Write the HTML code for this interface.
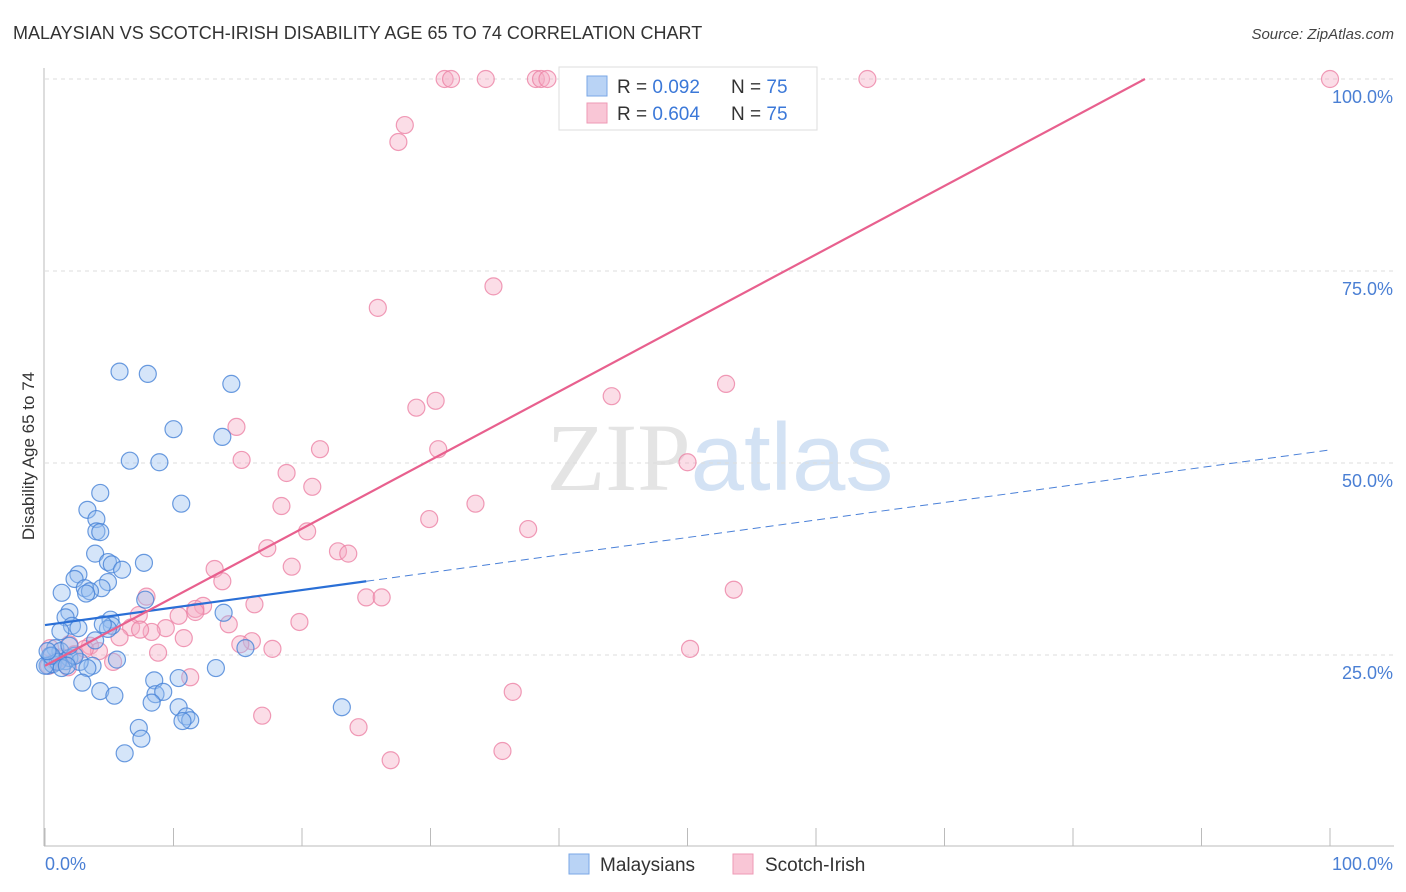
<!DOCTYPE html>
<html><head><meta charset="utf-8"><style>
body{margin:0;background:#fff;font-family:"Liberation Sans",sans-serif}
</style></head><body>
<svg id="chart" width="1406" height="892" xmlns="http://www.w3.org/2000/svg" style="display:block">
<text x="13" y="39" font-size="18" fill="#333">MALAYSIAN VS SCOTCH-IRISH DISABILITY AGE 65 TO 74 CORRELATION CHART</text>
<text x="1394" y="39" font-size="15" fill="#444" text-anchor="end" font-style="italic">Source: ZipAtlas.com</text>
<text x="720" y="490" font-size="96" text-anchor="middle" font-family="Liberation Serif" fill="#e4e4e4">ZIP<tspan fill="#d3e2f4" font-family="Liberation Sans">atlas</tspan></text>
<g id="grid"></g>
<line x1="44" y1="68" x2="44" y2="846" stroke="#bbb"/>
<line x1="44" y1="846" x2="1394" y2="846" stroke="#bbb"/>
<text transform="translate(34,456) rotate(-90)" font-size="17" fill="#333" text-anchor="middle">Disability Age 65 to 74</text>
<text x="45" y="870" font-size="18" fill="#4a7fd4">0.0%</text>
<text x="1393" y="870" font-size="18" fill="#4a7fd4" text-anchor="end">100.0%</text>
<g id="pts"></g><g id="lines"></g>
<g>
<rect x="559" y="67" width="258" height="63" fill="#fff" stroke="#ddd"/>
<rect x="587" y="76" width="20" height="20" fill="#b9d3f5" stroke="#7aa7e6"/>
<rect x="587" y="103" width="20" height="20" fill="#f9c6d6" stroke="#ee9ab5"/>
<text x="617" y="93" font-size="19" fill="#333">R = <tspan fill="#3b78d8">0.092</tspan><tspan x="731">N = </tspan><tspan fill="#3b78d8">75</tspan></text>
<text x="617" y="120" font-size="19" fill="#333">R = <tspan fill="#3b78d8">0.604</tspan><tspan x="731">N = </tspan><tspan fill="#3b78d8">75</tspan></text>
</g>
<g><rect x="569" y="854" width="20" height="20" fill="#b9d3f5" stroke="#7aa7e6"/><text x="600" y="871" font-size="19" fill="#333">Malaysians</text></g>
<g><rect x="733" y="854" width="20" height="20" fill="#f9c6d6" stroke="#ee9ab5"/><text x="765" y="871" font-size="19" fill="#333">Scotch-Irish</text></g>
</svg>
<script>
const yTicks=[25,50,75,100];
const xTicks=[0,10,20,30,40,50,60,70,80,90,100];
const blueX=[5.8,8.0,14.5,10.0,13.8,6.6,8.9,10.6,4.3,3.3,4.0,4.0,4.3,3.9,4.9,5.2,6.0,7.7,2.6,4.9,2.3,4.4,1.3,3.1,3.5,3.2,13.9,1.9,1.6,2.1,2.6,5.1,5.2,4.9,4.5,7.8,0.8,1.2,0.4,1.6,1.9,0.2,0.6,5.6,3.7,2.7,15.6,13.3,3.3,10.4,8.5,8.6,9.2,8.3,2.9,4.3,5.4,10.4,11.0,11.3,10.7,7.3,7.5,6.2,23.1,1.2,1.0,0.0,0.5,1.3,2.3,3.9,1.7,1.9,0.2];
const blueY=[61.9,61.6,60.3,54.4,53.4,50.3,50.1,44.7,46.1,43.9,42.7,41.1,41.0,38.2,37.1,36.8,36.1,37.0,35.5,34.5,34.9,33.7,33.1,33.7,33.3,33.0,30.5,30.6,29.9,28.8,28.5,29.6,28.8,28.4,29.0,32.2,25.9,25.5,24.9,24.2,24.6,23.6,23.8,24.4,23.6,24.1,25.9,23.3,23.3,22.0,21.7,19.9,20.2,18.8,21.4,20.3,19.7,18.2,17.0,16.5,16.4,15.5,14.1,12.2,18.2,28.1,24.1,23.6,24.9,23.3,24.9,26.9,23.6,26.2,25.5];
const pinkX=[31.1,31.6,34.3,38.2,38.6,39.1,64.0,100,28.0,27.5,34.9,25.9,53.0,44.1,28.9,30.4,14.9,15.3,21.4,30.6,50.0,18.8,20.8,18.4,33.5,29.9,37.6,20.4,17.3,22.8,23.6,19.2,13.2,13.8,53.6,7.9,25.0,26.2,12.3,10.4,7.3,16.3,11.7,9.4,10.8,8.3,6.7,19.8,14.3,16.1,17.7,50.2,5.8,3.5,1.9,4.2,1.2,0.3,0.8,2.3,1.3,8.8,5.3,11.3,36.4,16.9,24.4,35.6,26.9,7.4,3.1,1.8,15.2,11.7,0.4];
const pinkY=[100,100,100,100,100,100,100,100,94.0,91.8,73.0,70.2,60.3,58.7,57.2,58.1,54.7,50.4,51.8,51.8,50.1,48.7,46.9,44.4,44.7,42.7,41.4,41.1,38.9,38.5,38.2,36.5,36.2,34.6,33.5,32.6,32.5,32.5,31.4,30.1,30.2,31.6,31.0,28.5,27.2,28.0,28.6,29.3,29.0,26.8,25.8,25.8,27.3,26.2,26.4,25.5,24.5,23.6,24.2,25.1,24.7,25.3,24.1,22.1,20.2,17.1,15.6,12.5,11.3,28.3,25.8,23.4,26.4,30.6,25.9];
const blueLine=[0,28.9,25,34.6,100,51.7];
const pinkLine=[0,23.6,85.6,100];
const sx=v=>45+v*12.85, sy=v=>847-v*7.68;
const NS="http://www.w3.org/2000/svg";
function mk(t,a,p){const e=document.createElementNS(NS,t);for(const k in a)e.setAttribute(k,a[k]);p.appendChild(e);return e;}
const grid=document.getElementById('grid');
yTicks.forEach(t=>{
const l=mk('line',{x1:45,x2:1394,y1:sy(t),y2:sy(t),stroke:'#ddd','stroke-dasharray':'4,4'},grid);


const tx=mk('text',{x:1393,y:sy(t)+24,'font-size':18,fill:'#4a7fd4','text-anchor':'end'},grid);
tx.textContent=t.toFixed(1)+'%';


});
xTicks.forEach(t=>{
const l=mk('line',{x1:sx(t),x2:sx(t),y1:828,y2:846,stroke:'#bbb'},grid);


});
const pts=document.getElementById('pts');
pinkX.forEach((x,i)=>{
const c=mk('circle',{cx:sx(x),cy:sy(pinkY[i]),r:8.5,fill:'rgba(246,170,195,0.4)',stroke:'rgba(236,130,165,0.8)','stroke-width':1.2},pts);


});
blueX.forEach((x,i)=>{
const c=mk('circle',{cx:sx(x),cy:sy(blueY[i]),r:8.5,fill:'rgba(150,190,240,0.4)',stroke:'rgba(70,130,215,0.8)','stroke-width':1.2},pts);


});
const lines=document.getElementById('lines');
let a=mk('line',{x1:sx(blueLine[0]),y1:sy(blueLine[1]),x2:sx(blueLine[2]),y2:sy(blueLine[3]),stroke:'#2a6fd6','stroke-width':2.2},lines);


let b=mk('line',{x1:sx(blueLine[2]),y1:sy(blueLine[3]),x2:sx(blueLine[4]),y2:sy(blueLine[5]),stroke:'#4a80d8','stroke-width':1,'stroke-dasharray':'8,5'},lines);


let c=mk('line',{x1:sx(pinkLine[0]),y1:sy(pinkLine[1]),x2:sx(pinkLine[2]),y2:sy(pinkLine[3]),stroke:'#e8608e','stroke-width':2.2},lines);


</script>
</body></html>
